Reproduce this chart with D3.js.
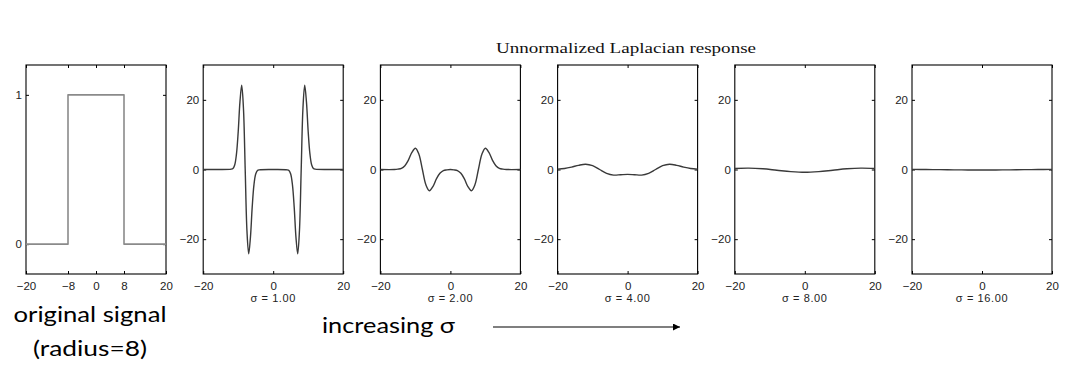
<!DOCTYPE html>
<html>
<head>
<meta charset="utf-8">
<script src="https://cdn.jsdelivr.net/npm/d3@7"></script>
<style>
  html, body { margin: 0; padding: 0; background: #fff; }
  svg { display: block; }
  .tick text { font-family: "Liberation Sans", Arial, sans-serif; font-size: 11.5px; fill: #222; }
</style>
</head>
<body>
<svg id="chart" width="1070" height="370"></svg>
<script>
// ---------- data ----------
const titleText = "Unnormalized Laplacian response";
const signalXTicks = [-20, -8, 0, 8, 20];
const signalYTicks = [0, 1];
const respXTicks = [-20, 0, 20];
const respYTicks = [-20, 0, 20];
const sigmaLabels = ["1.00", "2.00", "4.00", "8.00", "16.00"];

// original box signal (radius = 8)
const signalX = [-20, -8, -8, 8, 8, 20];
const signalY = [0, 0, 1, 1, 0, 0];

// sigma = 1
const resp1X = [-20, -16, -12, -11.5, -11, -10.5, -10, -9.5, -9, -8.5, -8, -7.5, -7, -6.5, -6, -5.5, -5, -4.5, -4,
                0, 4, 4.5, 5, 5.5, 6, 6.5, 7, 7.5, 8, 8.5, 9, 9.5, 10, 10.5, 11, 11.5, 12, 16, 20];
const resp1Y = [0, 0, 0.1, 0.3, 1.3, 4.4, 10.8, 19.4, 24.2, 17.6, 0, -17.6, -24.2, -19.4, -10.8, -4.4, -1.3, -0.3, -0.1,
                0, -0.1, -0.3, -1.3, -4.4, -10.8, -19.4, -24.2, -17.6, 0, 17.6, 24.2, 19.4, 10.8, 4.4, 1.3, 0.3, 0.1, 0, 0];
// sigma = 2
const resp2X = [-20, -16, -15, -14, -13, -12, -11, -10, -9, -8, -7, -6, -5, -4, -3, -2, -1, 0,
                1, 2, 3, 4, 5, 6, 7, 8, 9, 10, 11, 12, 13, 14, 15, 16, 20];
const resp2Y = [0, 0, 0.1, 0.3, 1.1, 2.7, 4.9, 6.1, 4.4, 0, -4.4, -6.1, -4.9, -2.7, -1.1, -0.3, -0.1, 0,
                -0.1, -0.3, -1.1, -2.7, -4.9, -6.1, -4.4, 0, 4.4, 6.1, 4.9, 2.7, 1.1, 0.3, 0.1, 0, 0];
// sigma = 4
const resp4X = [-20, -18, -16, -14, -12, -10, -8, -6, -4, -2, 0, 2, 4, 6, 8, 10, 12, 14, 16, 18, 20];
const resp4Y = [0.1, 0.3, 0.7, 1.2, 1.5, 1.1, 0, -1.1, -1.6, -1.5, -1.4, -1.5, -1.6, -1.1, 0, 1.1, 1.5, 1.2, 0.7, 0.3, 0.1];
// sigma = 8
const resp8X = [-20, -16, -12, -8, -4, 0, 4, 8, 12, 16, 20];
const resp8Y = [0.3, 0.4, 0.2, -0.2, -0.6, -0.8, -0.6, -0.2, 0.2, 0.4, 0.3];
// sigma = 16
const resp16X = [-20, -16, -12, -8, -4, 0, 4, 8, 12, 16, 20];
const resp16Y = [0.03, -0.01, -0.05, -0.1, -0.13, -0.14, -0.13, -0.1, -0.05, -0.01, 0.03];

const responses = [
  { xs: resp1X, ys: resp1Y },
  { xs: resp2X, ys: resp2Y },
  { xs: resp4X, ys: resp4Y },
  { xs: resp8X, ys: resp8Y },
  { xs: resp16X, ys: resp16Y }
];

// ---------- layout ----------
const svg = d3.select("#chart");
const panelLeft0 = 26, panelStep = 177.2, panelW = 140;
const panelTop = 65, panelBottom = 274;
const tickLen = 3;

function drawPanel(i, xDomain, yDomain, xTicks, yTicks, xs, ys, opts) {
  const left = panelLeft0 + i * panelStep;
  const x = d3.scaleLinear().domain(xDomain).range([left, left + panelW]);
  const y = d3.scaleLinear().domain(yDomain).range([panelBottom, panelTop]);
  const g = svg.append("g");

  const bottom = g.append("g").attr("transform", `translate(0,${panelBottom})`)
    .call(d3.axisBottom(x).tickValues(xTicks).tickSizeInner(-tickLen).tickSizeOuter(0).tickPadding(8).tickFormat(d3.format("d")));
  const top = g.append("g").attr("transform", `translate(0,${panelTop})`)
    .call(d3.axisTop(x).tickValues(xTicks).tickSizeInner(-tickLen).tickSizeOuter(0).tickFormat(""));
  const leftAx = g.append("g").attr("transform", `translate(${left},0)`)
    .call(d3.axisLeft(y).tickValues(yTicks).tickSizeInner(-tickLen).tickSizeOuter(0).tickPadding(4).tickFormat(d3.format("d")));
  const rightAx = g.append("g").attr("transform", `translate(${left + panelW},0)`)
    .call(d3.axisRight(y).tickValues(yTicks).tickSizeInner(-tickLen).tickSizeOuter(0).tickFormat(""));
  [bottom, top, leftAx, rightAx].forEach(a => {
    a.select(".domain").remove();
    a.selectAll(".tick line").attr("stroke", "#000").attr("stroke-width", 1);
  });
  g.selectAll(".tick text").text(function () { return this.textContent.replace("-", "\u2212"); });

  g.append("rect")
    .attr("x", left).attr("y", panelTop)
    .attr("width", panelW).attr("height", panelBottom - panelTop)
    .attr("fill", "none").attr("stroke", "#000").attr("stroke-width", 1.1);

  const pts = xs.map((v, k) => [v, ys[k]]);
  const line = d3.line().x(d => x(d[0])).y(d => y(d[1])).curve(opts.curve);
  g.append("path").datum(pts)
    .attr("d", line)
    .attr("fill", "none")
    .attr("stroke", opts.color)
    .attr("stroke-width", opts.width)
    .attr("stroke-linejoin", "round");

  if (opts.label) {
    g.append("text")
      .attr("x", left + panelW / 2).attr("y", 302)
      .attr("text-anchor", "middle")
      .attr("font-family", "Liberation Sans, Arial, sans-serif")
      .attr("font-size", 11).attr("fill", "#222")
      .attr("letter-spacing", 0.6)
      .text(opts.label);
  }
}

drawPanel(0, [-20, 20], [-0.2, 1.2], signalXTicks, signalYTicks, signalX, signalY,
  { curve: d3.curveLinear, color: "#8a8a8a", width: 1.6 });

responses.forEach((r, k) => {
  drawPanel(k + 1, [-20, 20], [-30, 30], respXTicks, respYTicks, r.xs, r.ys,
    { curve: d3.curveCatmullRom.alpha(0.5), color: "#3a3a3a", width: 1.4, label: "\u03c3 = " + sigmaLabels[k] });
});

svg.append("text")
  .attr("x", 626).attr("y", 53)
  .attr("text-anchor", "middle")
  .attr("font-family", "Liberation Serif, 'DejaVu Serif', serif")
  .attr("font-size", 15.5).attr("fill", "#111")
  .attr("textLength", 260).attr("lengthAdjust", "spacingAndGlyphs")
  .text(titleText);

const annoFont = "Lato, 'Open Sans', sans-serif";
svg.append("text")
  .attr("x", 90).attr("y", 322).attr("text-anchor", "middle")
  .attr("font-family", annoFont).attr("font-size", 22).attr("fill", "#000")
  .attr("textLength", 153).attr("lengthAdjust", "spacingAndGlyphs")
  .text("original signal");
svg.append("text")
  .attr("x", 90).attr("y", 356).attr("text-anchor", "middle")
  .attr("font-family", annoFont).attr("font-size", 22).attr("fill", "#000")
  .attr("textLength", 114).attr("lengthAdjust", "spacingAndGlyphs")
  .text("(radius=8)");
svg.append("text")
  .attr("x", 322).attr("y", 333)
  .attr("font-family", annoFont).attr("font-size", 22).attr("fill", "#000")
  .attr("textLength", 133).attr("lengthAdjust", "spacingAndGlyphs")
  .text("increasing \u03c3");

svg.append("defs").append("marker")
  .attr("id", "arrowhead")
  .attr("viewBox", "0 0 10 10").attr("refX", 10).attr("refY", 5)
  .attr("markerWidth", 10).attr("markerHeight", 7).attr("markerUnits", "userSpaceOnUse")
  .attr("orient", "auto")
  .append("path").attr("d", "M0,0 L10,5 L0,10 Z").attr("fill", "#000");
svg.append("line")
  .attr("x1", 493).attr("y1", 327).attr("x2", 680).attr("y2", 327)
  .attr("stroke", "#000").attr("stroke-width", 1.2)
  .attr("marker-end", "url(#arrowhead)");
</script>
</body>
</html>
